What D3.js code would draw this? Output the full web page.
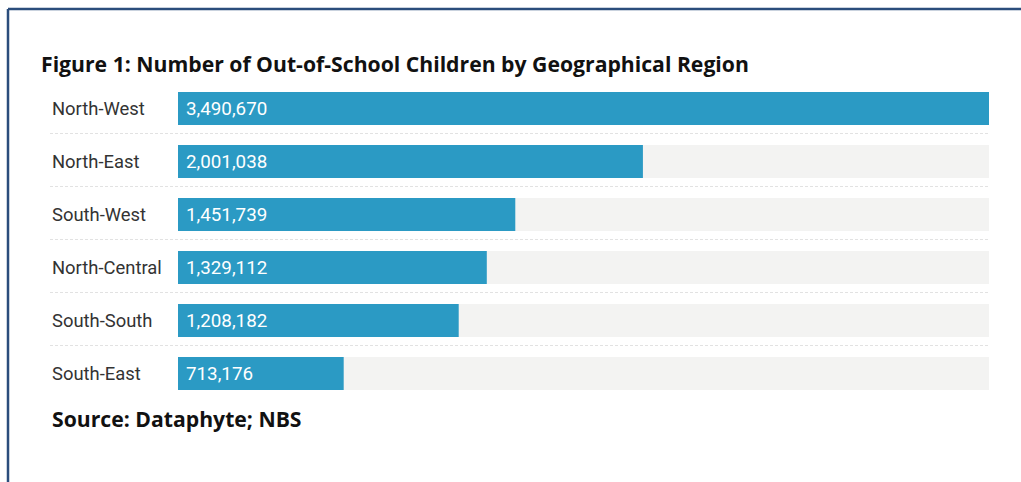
<!DOCTYPE html>
<html>
<head>
<meta charset="utf-8">
<script src="https://cdn.jsdelivr.net/npm/d3@7"></script>
<style>
  body { margin: 0; background: #fff; }
</style>
</head>
<body>
<div id="chart"></div>
<script>
// Data
var regions = ["North-West", "North-East", "South-West", "North-Central", "South-South", "South-East"];
var children = [3490670, 2001038, 1451739, 1329112, 1208182, 713176];

var width = 1021, height = 482;
var margin = {top: 92, left: 178, right: 32};
var rowStep = 53, barHeight = 33;

var svg = d3.select("#chart").append("svg")
    .attr("width", width)
    .attr("height", height);

// Frame
svg.append("line")
    .attr("x1", 8).attr("x2", width)
    .attr("y1", 9).attr("y2", 9)
    .style("stroke", "#2b4d7c")
    .style("stroke-width", 2.5);

svg.append("line")
    .attr("x1", 8).attr("x2", 8)
    .attr("y1", 9).attr("y2", height)
    .style("stroke", "#2b4d7c")
    .style("stroke-width", 2.5);

// Title
svg.append("text")
    .attr("x", 41)
    .attr("y", 72)
    .style("font-family", "'Open Sans', sans-serif")
    .style("font-weight", "bold")
    .style("font-size", "21.2px")
    .style("fill", "#111")
    .text("Figure 1: Number of Out-of-School Children by Geographical Region");

// Scales
var x = d3.scaleLinear()
    .domain([0, d3.max(children)])
    .range([0, width - margin.left - margin.right]);

var pad = (rowStep - barHeight) / rowStep;
var y = d3.scaleBand()
    .domain(regions)
    .range([margin.top, margin.top + rowStep * regions.length - (rowStep - barHeight)])
    .paddingInner(pad)
    .paddingOuter(0);

var data = regions.map(function(r, i) { return {region: r, value: children[i]}; });

var g = svg.append("g");

// Separators between rows
g.selectAll(".sep")
    .data(regions.slice(0, -1))
    .enter().append("line")
    .attr("class", "sep")
    .attr("x1", 50)
    .attr("x2", margin.left + x.range()[1])
    .attr("y1", function(d) { return y(d) + y.bandwidth() + 8.5; })
    .attr("y2", function(d) { return y(d) + y.bandwidth() + 8.5; })
    .style("stroke", "#e2e2e2")
    .style("stroke-width", 1)
    .style("stroke-dasharray", "3,2");

// Background tracks
g.selectAll(".track")
    .data(data)
    .enter().append("rect")
    .attr("class", "track")
    .attr("x", margin.left)
    .attr("y", function(d) { return y(d.region); })
    .attr("width", x.range()[1])
    .attr("height", y.bandwidth())
    .style("fill", "#f3f3f2");

// Bars
g.selectAll(".bar")
    .data(data)
    .enter().append("rect")
    .attr("class", "bar")
    .attr("x", margin.left)
    .attr("y", function(d) { return y(d.region); })
    .attr("width", function(d) { return x(d.value); })
    .attr("height", y.bandwidth())
    .style("fill", "#2b9ac4");

// Value labels
g.selectAll(".val")
    .data(data)
    .enter().append("text")
    .attr("class", "val")
    .attr("x", margin.left + 8)
    .attr("y", function(d) { return y(d.region) + y.bandwidth() / 2; })
    .attr("dy", "0.36em")
    .style("font-family", "Roboto, sans-serif")
    .style("font-size", "18.8px")
    .style("fill", "#fff")
    .text(function(d) { return d3.format(",")(d.value); });

// Category labels
g.selectAll(".lab")
    .data(data)
    .enter().append("text")
    .attr("class", "lab")
    .attr("x", 52)
    .attr("y", function(d) { return y(d.region) + y.bandwidth() / 2; })
    .attr("dy", "0.36em")
    .style("font-family", "Roboto, sans-serif")
    .style("font-size", "18.4px")
    .style("fill", "#333")
    .text(function(d) { return d.region; });

// Source
svg.append("text")
    .attr("x", 52)
    .attr("y", 427)
    .style("font-family", "'Open Sans', sans-serif")
    .style("font-weight", "bold")
    .style("font-size", "21.2px")
    .style("fill", "#111")
    .text("Source: Dataphyte; NBS");
</script>
</body>
</html>
